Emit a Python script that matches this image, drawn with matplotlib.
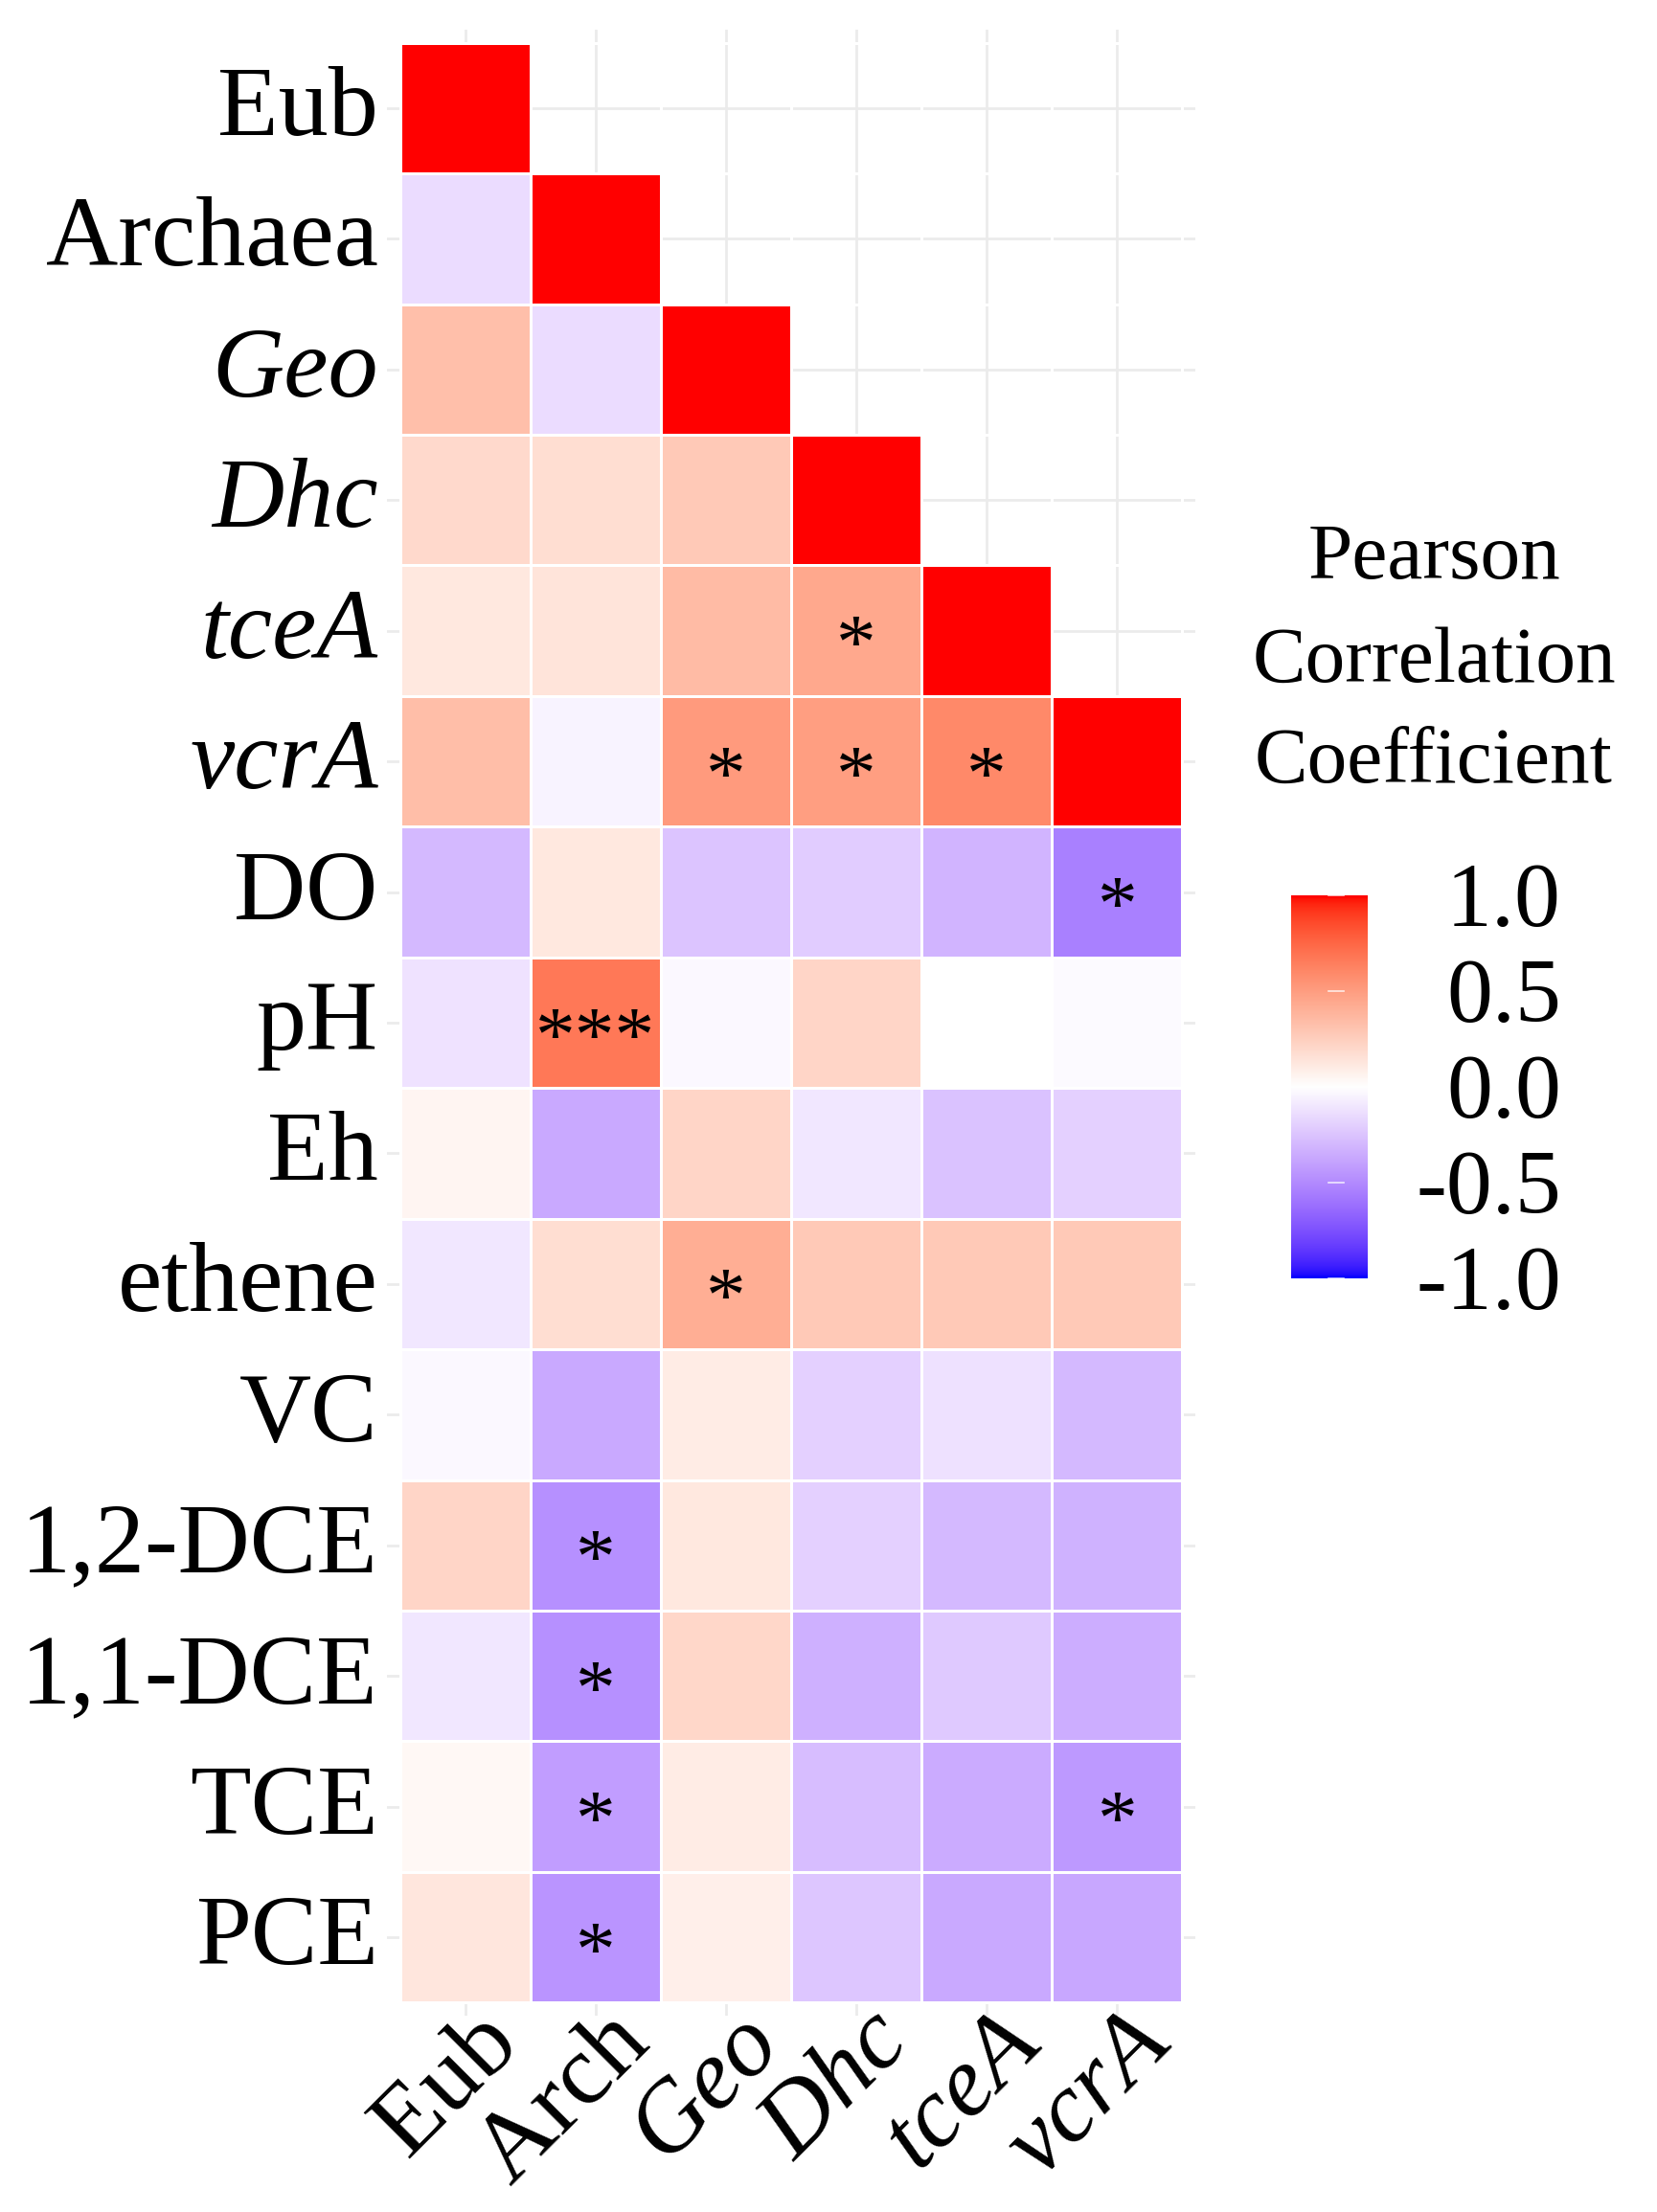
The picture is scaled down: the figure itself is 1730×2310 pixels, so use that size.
import numpy as np
import matplotlib
matplotlib.use("Agg")
import matplotlib.pyplot as plt
from matplotlib.colors import ListedColormap
from matplotlib import transforms

# ---- data ----
row_labels = ['Eub', 'Archaea', 'Geo', 'Dhc', 'tceA', 'vcrA', 'DO', 'pH', 'Eh',
              'ethene', 'VC', '1,2-DCE', '1,1-DCE', 'TCE', 'PCE']
col_labels = ['Eub', 'Arch', 'Geo', 'Dhc', 'tceA', 'vcrA']
italic_names = ['Geo', 'Dhc', 'tceA', 'vcrA']

na = np.nan
corr = [
    [1.00, na, na, na, na, na],
    [-0.15, 1.00, na, na, na, na],
    [0.33, -0.15, 1.00, na, na, na],
    [0.20, 0.17, 0.28, 1.00, na, na],
    [0.12, 0.14, 0.35, 0.45, 1.00, na],
    [0.34, -0.05, 0.52, 0.50, 0.60, 1.00],
    [-0.30, 0.12, -0.25, -0.22, -0.32, -0.55],
    [-0.12, 0.68, -0.03, 0.22, 0.00, -0.02],
    [0.05, -0.37, 0.22, -0.10, -0.26, -0.20],
    [-0.10, 0.17, 0.42, 0.28, 0.28, 0.28],
    [-0.03, -0.37, 0.10, -0.20, -0.13, -0.30],
    [0.22, -0.48, 0.12, -0.20, -0.30, -0.33],
    [-0.10, -0.48, 0.21, -0.34, -0.23, -0.35],
    [0.04, -0.42, 0.10, -0.28, -0.36, -0.44],
    [0.13, -0.46, 0.08, -0.24, -0.37, -0.38],
]

# significance marks: (row, column, label)
star_rows = [4, 5, 5, 5, 6, 7, 9, 11, 12, 13, 13, 14]
star_cols = [3, 2, 3, 4, 5, 1, 2, 1, 1, 1, 5, 1]
star_text = ['*', '*', '*', '*', '*', '***', '*', '*', '*', '*', '*', '*']

legend_ticks = [1.0, 0.5, 0.0, -0.5, -1.0]


# ---- blue-white-red gradient interpolated in CIELAB (like gradient2) ----
WHITE_PT = np.array([0.95047, 1.0, 1.08883])
M_RGB2XYZ = np.array([[0.4124, 0.3576, 0.1805],
                      [0.2126, 0.7152, 0.0722],
                      [0.0193, 0.1192, 0.9505]])


def srgb_to_lab(rgb):
    rgb = np.asarray(rgb, float)
    lin = np.where(rgb <= 0.04045, rgb / 12.92, ((rgb + 0.055) / 1.055) ** 2.4)
    xyz = lin @ M_RGB2XYZ.T / WHITE_PT
    f = np.where(xyz > 0.008856, np.cbrt(xyz), 7.787 * xyz + 16 / 116)
    return np.stack([116 * f[..., 1] - 16,
                     500 * (f[..., 0] - f[..., 1]),
                     200 * (f[..., 1] - f[..., 2])], axis=-1)


def lab_to_srgb(lab):
    lab = np.asarray(lab, float)
    fy = (lab[..., 0] + 16) / 116
    fx = fy + lab[..., 1] / 500
    fz = fy - lab[..., 2] / 200
    f = np.stack([fx, fy, fz], axis=-1)
    xyz = np.where(f ** 3 > 0.008856, f ** 3, (f - 16 / 116) / 7.787) * WHITE_PT
    lin = xyz @ np.linalg.inv(M_RGB2XYZ).T
    lin = np.clip(lin, 0, 1)
    rgb = np.where(lin <= 0.0031308, 12.92 * lin, 1.055 * lin ** (1 / 2.4) - 0.055)
    return np.clip(rgb, 0, 1)


lab_low = srgb_to_lab([0, 0, 1])
lab_mid = srgb_to_lab([1, 1, 1])
lab_high = srgb_to_lab([1, 0, 0])
vals = np.linspace(-1, 1, 513)
labs = []
for v in vals:
    if v < 0:
        labs.append(lab_mid + (-v) * (lab_low - lab_mid))
    else:
        labs.append(lab_mid + v * (lab_high - lab_mid))
cmap = ListedColormap(lab_to_srgb(np.array(labs)))

# ---- figure ----
plt.rcParams['font.family'] = ['Liberation Serif', 'DejaVu Serif']
W, H = 1730, 2310
fig = plt.figure(figsize=(W / 100, H / 100), dpi=100)
fig.patch.set_facecolor('white')

ax = fig.add_axes([404 / W, 1 - 2105 / H, 844 / W, 2074 / H])
data = np.ma.masked_invalid(np.array(corr, float))
nr, nc = data.shape
ax.pcolormesh(np.arange(nc + 1) - 0.5, np.arange(nr + 1) - 0.5, data,
              cmap=cmap, vmin=-1, vmax=1, edgecolors='white', linewidth=0.8,
              zorder=2)
ax.set_xlim(-0.6, nc - 0.4)
ax.set_ylim(nr - 0.4, -0.6)
ax.set_xticks(range(nc))
ax.set_yticks(range(nr))
ax.grid(True, color='#EBEBEB', linewidth=2, zorder=0)
ax.set_axisbelow(True)
ax.tick_params(length=0, labelleft=False, labelbottom=False)
for s in ax.spines.values():
    s.set_visible(False)

for r, c, t in zip(star_rows, star_cols, star_text):
    ax.text(c, r + 0.29, t, ha='center', va='baseline', fontsize=60,
            color='black', zorder=3)

# y labels
for i, lab in enumerate(row_labels):
    ax.text(-0.011, i + 0.205, lab, transform=ax.get_yaxis_transform(),
            ha='right', va='baseline', fontsize=75,
            style='italic' if lab in italic_names else 'normal')

# x labels, rotated 45 degrees
xtrans = transforms.blended_transform_factory(ax.transData, ax.transAxes)
for j, lab in enumerate(col_labels):
    ax.text(j + 0.43, -0.0149, lab, transform=xtrans, rotation=45,
            rotation_mode='anchor', ha='right', va='baseline', fontsize=75,
            style='italic' if lab in italic_names else 'normal')

# ---- legend ----
fig.text(1497 / W, 1 - 604 / H, 'Pearson', ha='center', va='baseline', fontsize=60)
fig.text(1497 / W, 1 - 712 / H, 'Correlation', ha='center', va='baseline', fontsize=60)
fig.text(1497 / W, 1 - 817 / H, 'Coefficient', ha='center', va='baseline', fontsize=60)

cax = fig.add_axes([1348 / W, 1 - 1335 / H, 80 / W, 400 / H])
grad = np.linspace(1, -1, 300).reshape(-1, 1)
cax.imshow(grad, cmap=cmap, vmin=-1, vmax=1, aspect='auto',
           extent=[0, 1, -1, 1], interpolation='bilinear')
cax.set_xlim(0, 1)
cax.set_ylim(-1, 1)
cax.axis('off')
for t in legend_ticks:
    cax.plot([0.49, 0.69], [t, t], color='white', linewidth=1.2, alpha=0.8)
    cax.text(3.525, t - 0.16, f'{t:.1f}', transform=cax.get_yaxis_transform(),
             ha='right', va='baseline', fontsize=69, clip_on=False)

fig.savefig('out.png', dpi=100, facecolor='white')
